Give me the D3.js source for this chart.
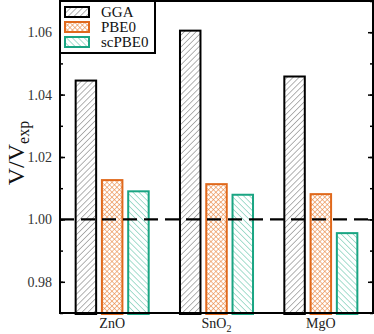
<!DOCTYPE html>
<html>
<head>
<meta charset="utf-8">
<script src="https://cdn.jsdelivr.net/npm/d3@7"></script>
<style>
  body { margin: 0; background: #fff; }
  svg { display: block; font-family: "Liberation Serif", "DejaVu Serif", serif; }
</style>
</head>
<body>
<div id="chart"></div>
<script>
// data
const materials = ['ZnO', 'SnO2', 'MgO'];
const methods = ['GGA', 'PBE0', 'scPBE0'];
const ggaValues = [1.0445, 1.0605, 1.0458];
const pbe0Values = [1.0126, 1.0113, 1.0081];
const scpbe0Values = [1.0090, 1.0079, 0.9956];
const yTicks = [0.98, 1.00, 1.02, 1.04, 1.06];

const W = 374, H = 334;
const MARGIN = {top: 1, right: 1, bottom: 21, left: 60};
const colors = {GGA: '#000000', PBE0: '#e0691c', scPBE0: '#1aa583'};

const svg = d3.select('#chart').append('svg')
    .attr('width', W)
    .attr('height', H);

// hatch patterns
const defs = svg.append('defs');
function hatch(id, color, angle, gap, width) {
    const p = defs.append('pattern')
        .attr('id', id)
        .attr('patternUnits', 'userSpaceOnUse')
        .attr('width', gap).attr('height', gap)
        .attr('patternTransform', `rotate(${angle})`);
    p.append('line')
        .attr('x1', 0).attr('y1', 0).attr('x2', 0).attr('y2', gap)
        .attr('stroke', color).attr('stroke-width', width);
    return p;
}
hatch('p-gga', '#666', 45, 4.2, 1);
hatch('p-sc', '#4dbb9c', -45, 4.2, 1);
const cross = defs.append('pattern')
    .attr('id', 'p-pbe0')
    .attr('patternUnits', 'userSpaceOnUse')
    .attr('width', 3.5).attr('height', 3.5)
    .attr('patternTransform', 'rotate(45)');
cross.append('line').attr('x1', 0).attr('y1', 0).attr('x2', 0).attr('y2', 3.5)
    .attr('stroke', '#e8823a').attr('stroke-width', 1.1);
cross.append('line').attr('x1', 0).attr('y1', 0).attr('x2', 3.5).attr('y2', 0)
    .attr('stroke', '#e8823a').attr('stroke-width', 1.1);
const fills = {GGA: 'url(#p-gga)', PBE0: 'url(#p-pbe0)', scPBE0: 'url(#p-sc)'};

const iw = W - MARGIN.left - MARGIN.right;
const ih = H - MARGIN.top - MARGIN.bottom;

const graph = svg.append('g')
    .attr('transform', `translate(${MARGIN.left}, ${MARGIN.top})`);

const xScale = d3.scaleBand()
    .domain(materials)
    .range([0, iw])
    .paddingInner(0.3)
    .paddingOuter(0.15);

const xInner = d3.scaleBand()
    .domain(methods)
    .range([0, xScale.bandwidth()])
    .paddingInner(0.22);

const yScale = d3.scaleLinear()
    .domain([0.97, 1.07])
    .range([ih, 0]);

const series = {GGA: ggaValues, PBE0: pbe0Values, scPBE0: scpbe0Values};
const rows = [];
materials.forEach((m, i) => {
    methods.forEach(k => rows.push({material: m, method: k, value: series[k][i]}));
});

graph.append('g').selectAll('rect')
    .data(rows)
    .enter()
    .append('rect')
    .attr('x', d => xScale(d.material) + xInner(d.method))
    .attr('y', d => yScale(d.value))
    .attr('width', xInner.bandwidth())
    .attr('height', d => ih - yScale(d.value) + 1)
    .attr('fill', d => fills[d.method])
    .attr('stroke', d => colors[d.method])
    .attr('stroke-width', 2);

// dashed reference line
graph.append('line')
    .attr('x1', 0).attr('x2', iw)
    .attr('y1', yScale(1)).attr('y2', yScale(1))
    .attr('stroke', '#000')
    .attr('stroke-width', 2.2)
    .attr('stroke-dasharray', '14,7');

// axes: ticks inward on both sides
const minorTicks = d3.range(0.97, 1.0701, 0.01);
const leftAxis = d3.axisLeft(yScale).tickValues(yTicks).tickSize(-5).tickFormat(d3.format('.2f')).tickPadding(8);
const leftMinor = d3.axisLeft(yScale).tickValues(minorTicks).tickSize(-3).tickFormat('');
const rightMajor = d3.axisRight(yScale).tickValues(yTicks).tickSize(-5).tickFormat('');
const rightMinor = d3.axisRight(yScale).tickValues(minorTicks).tickSize(-3).tickFormat('');

graph.append('g').call(leftMinor);
graph.append('g').call(leftAxis).attr('class', 'yaxis');
graph.append('g').attr('transform', `translate(${iw},0)`).call(rightMinor);
graph.append('g').attr('transform', `translate(${iw},0)`).call(rightMajor);
graph.selectAll('.domain').remove();
graph.selectAll('.tick line').attr('stroke', '#000').attr('stroke-width', 1.5);
graph.selectAll('.yaxis text')
    .attr('font-family', '"Liberation Serif", serif')
    .attr('font-size', 14)
    .attr('fill', '#333');

// x labels
const xLabels = graph.append('g')
    .attr('transform', `translate(0, ${ih})`);
materials.forEach(m => {
    const t = xLabels.append('text')
        .attr('x', xScale(m) + xScale.bandwidth() / 2)
        .attr('y', 15)
        .attr('text-anchor', 'middle')
        .attr('font-size', 14)
        .attr('fill', '#222');
    if (m === 'SnO2') {
        t.append('tspan').text('SnO');
        t.append('tspan').attr('font-size', 10).attr('dy', 4).text('2');
    } else {
        t.text(m);
    }
});

// frame
graph.append('rect')
    .attr('x', 0).attr('y', 0)
    .attr('width', iw).attr('height', ih)
    .attr('fill', 'none')
    .attr('stroke', '#000')
    .attr('stroke-width', 2);

// y label
const yLabel = svg.append('text')
    .attr('transform', `translate(24, 153) rotate(-90)`)
    .attr('text-anchor', 'middle')
    .attr('font-size', 24)
    .attr('fill', '#111');
yLabel.append('tspan').text('V/V');
yLabel.append('tspan').attr('font-size', 16).attr('dy', 5).text('exp');

// legend
const legend = svg.append('g')
    .attr('transform', `translate(${MARGIN.left}, ${MARGIN.top})`);
legend.append('rect')
    .attr('width', 95).attr('height', 52)
    .attr('fill', '#fff')
    .attr('stroke', '#000')
    .attr('stroke-width', 2);
methods.forEach((k, i) => {
    const row = legend.append('g')
        .attr('transform', `translate(5, ${6 + i * 15})`);
    row.append('rect')
        .attr('width', 24).attr('height', 10)
        .attr('fill', fills[k])
        .attr('stroke', colors[k])
        .attr('stroke-width', 2);
    row.append('text')
        .attr('x', 36)
        .attr('y', 10)
        .attr('font-size', 15)
        .attr('fill', '#111')
        .text(k);
});
</script>
</body>
</html>
